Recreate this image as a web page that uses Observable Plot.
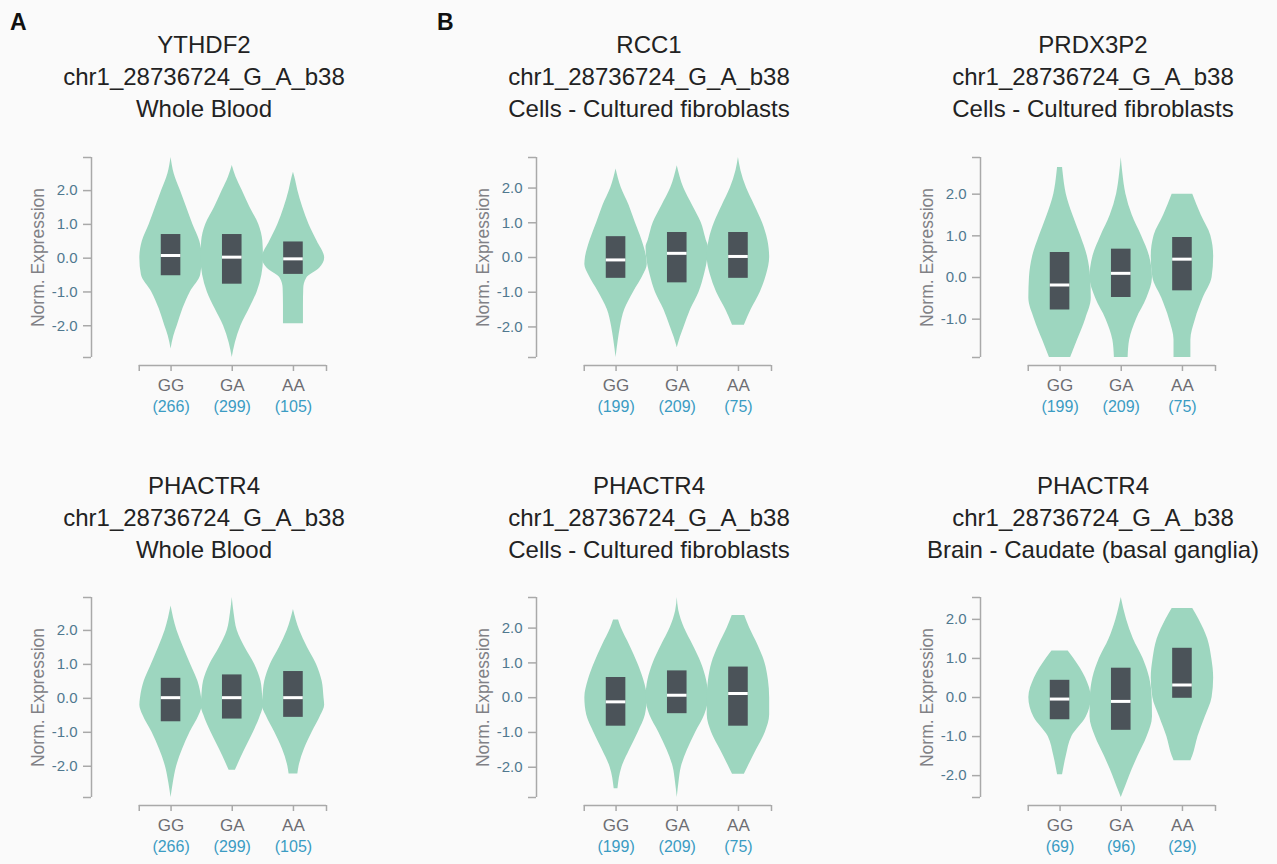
<!DOCTYPE html>
<html>
<head>
<meta charset="utf-8">
<script src="https://cdn.jsdelivr.net/npm/d3@7"></script>
<script src="https://cdn.jsdelivr.net/npm/@observablehq/plot@0.6"></script>
<style>
  body { margin: 0; background: #fafafa; font-family: "Liberation Sans", Arial, sans-serif; }
  #root { position: relative; width: 1277px; height: 864px; overflow: hidden; }
  .panel { position: absolute; width: 444px; }
  .title { position: absolute; width: 444px; text-align: center; font-size: 24px; line-height: 32px; color: #222; white-space: nowrap; }
  .letter { position: absolute; font-weight: bold; font-size: 23px; line-height: 24px; color: #111; }
</style>
</head>
<body>
<div id="root"></div>
<script>
// ---------- data ----------
const genotypes = ["GG", "GA", "AA"];
const genes = ["YTHDF2", "RCC1", "PRDX3P2", "PHACTR4", "PHACTR4", "PHACTR4"];
const variantId = "chr1_28736724_G_A_b38";
const tissues = ["Whole Blood", "Cells - Cultured fibroblasts", "Cells - Cultured fibroblasts",
                 "Whole Blood", "Cells - Cultured fibroblasts", "Brain - Caudate (basal ganglia)"];
const sampleCounts = [[266, 299, 105], [199, 209, 75], [199, 209, 75],
                      [266, 299, 105], [199, 209, 75], [69, 96, 29]];
const yTickValues = [[2, 1, 0, -1, -2], [2, 1, 0, -1, -2], [2, 1, 0, -1],
                     [2, 1, 0, -1, -2], [2, 1, 0, -1, -2], [2, 1, 0, -1, -2]];
const q1s = [[-0.52, -0.77, -0.48], [-0.60, -0.73, -0.60], [-0.78, -0.48, -0.32],
             [-0.69, -0.61, -0.56], [-0.82, -0.46, -0.82], [-0.57, -0.84, -0.02]];
const q3s = [[0.70, 0.70, 0.48], [0.60, 0.72, 0.72], [0.60, 0.68, 0.96],
             [0.59, 0.69, 0.79], [0.58, 0.77, 0.88], [0.44, 0.75, 1.26]];
const medians = [[0.08, 0.03, -0.02], [-0.07, 0.12, 0.03], [-0.18, 0.10, 0.44],
                 [0.02, 0.02, 0.02], [-0.12, 0.07, 0.12], [-0.04, -0.10, 0.32]];

// violin outlines: [expression value, relative half-width] for GG, GA, AA
const violinsYTHDF2Blood = [
  [[-2.69,0],[-2.3,0.09],[-2.0,0.2],[-1.5,0.38],[-1.0,0.62],[-0.5,0.95],[0,1.0],[0.5,0.92],[1.0,0.7],[1.5,0.5],[2.0,0.3],[2.5,0.1],[2.98,0]],
  [[-2.94,0],[-2.5,0.1],[-2.0,0.28],[-1.5,0.55],[-1.0,0.8],[-0.5,0.95],[0,1.0],[0.5,0.98],[1.0,0.85],[1.5,0.57],[2.0,0.32],[2.4,0.12],[2.74,0]],
  [[-1.94,0.32],[-1.4,0.32],[-0.9,0.33],[-0.6,0.42],[-0.3,0.84],[0,1.0],[0.5,0.76],[1.0,0.5],[1.5,0.3],[2.0,0.14],[2.3,0.07],[2.54,0]]
];
const violinsRCC1Fibro = [
  [[-2.88,0],[-2.4,0.07],[-2.0,0.14],[-1.5,0.28],[-1.0,0.56],[-0.5,0.88],[-0.2,1.0],[0,0.98],[0.5,0.83],[1.0,0.62],[1.5,0.42],[2.0,0.17],[2.55,0]],
  [[-2.6,0],[-2.3,0.1],[-2.0,0.22],[-1.5,0.43],[-1.0,0.7],[-0.5,0.87],[0,0.98],[0.3,1.0],[0.5,0.93],[1.0,0.77],[1.5,0.49],[2.0,0.21],[2.64,0]],
  [[-1.95,0.19],[-1.5,0.41],[-1.0,0.7],[-0.5,0.9],[0,1.0],[0.5,0.94],[1.0,0.77],[1.5,0.52],[2.0,0.26],[2.5,0.08],[2.88,0]]
];
const violinsPRDX3P2Fibro = [
  [[-1.92,0.34],[-1.5,0.56],[-1.0,0.82],[-0.5,1.0],[0,0.98],[0.5,0.88],[1.0,0.66],[1.5,0.41],[2.0,0.2],[2.5,0.1],[2.64,0.08]],
  [[-1.92,0.22],[-1.5,0.27],[-1.0,0.49],[-0.5,0.82],[0,1.0],[0.5,0.91],[1.0,0.65],[1.5,0.35],[2.0,0.15],[2.5,0.05],[2.88,0]],
  [[-1.92,0.27],[-1.5,0.27],[-1.0,0.42],[-0.5,0.66],[0,0.95],[0.5,1.0],[1.0,0.91],[1.5,0.6],[2.0,0.33]]
];
const violinsPHACTR4Blood = [
  [[-2.92,0],[-2.5,0.07],[-2.0,0.18],[-1.5,0.37],[-1.0,0.61],[-0.5,0.9],[-0.2,1.0],[0,0.98],[0.5,0.86],[1.0,0.63],[1.5,0.4],[2.0,0.19],[2.72,0]],
  [[-2.12,0.1],[-1.93,0.19],[-1.5,0.41],[-1.0,0.68],[-0.5,0.91],[-0.2,1.0],[0,0.98],[0.5,0.92],[1.0,0.72],[1.5,0.41],[2.0,0.16],[2.5,0.06],[2.97,0]],
  [[-2.23,0.14],[-2.0,0.18],[-1.5,0.35],[-1.0,0.6],[-0.5,0.88],[-0.2,1.0],[0,0.98],[0.5,0.92],[1.0,0.74],[1.5,0.45],[2.0,0.2],[2.62,0]]
];
const violinsPHACTR4Fibro = [
  [[-2.62,0.06],[-2.0,0.19],[-1.5,0.44],[-1.0,0.71],[-0.5,0.94],[0,1.0],[0.5,0.89],[1.0,0.69],[1.5,0.44],[2.0,0.17],[2.23,0.08]],
  [[-2.87,0],[-2.4,0.06],[-2.0,0.13],[-1.5,0.33],[-1.0,0.59],[-0.5,0.88],[0,1.0],[0.5,0.94],[1.0,0.77],[1.5,0.51],[2.0,0.23],[2.5,0.05],[2.88,0]],
  [[-2.2,0.19],[-2.0,0.3],[-1.5,0.58],[-1.0,0.86],[-0.5,1.0],[0,1.0],[0.5,0.96],[1.0,0.85],[1.5,0.63],[2.0,0.36],[2.36,0.2]]
];
const violinsPHACTR4Caudate = [
  [[-1.98,0.08],[-1.5,0.2],[-1.0,0.38],[-0.5,0.84],[0,1.0],[0.5,0.82],[1.0,0.44],[1.19,0.26]],
  [[-2.56,0],[-2.3,0.13],[-2.0,0.27],[-1.5,0.54],[-1.0,0.83],[-0.5,1.0],[0,0.99],[0.5,0.91],[1.0,0.7],[1.5,0.39],[2.0,0.17],[2.56,0]],
  [[-1.62,0.27],[-1.5,0.33],[-1.0,0.5],[-0.5,0.73],[0,0.95],[0.5,1.0],[1.0,0.94],[1.5,0.81],[2.0,0.53],[2.28,0.33]]
];
const violinSets = [violinsYTHDF2Blood, violinsRCC1Fibro, violinsPRDX3P2Fibro,
                    violinsPHACTR4Blood, violinsPHACTR4Fibro, violinsPHACTR4Caudate];

// ---------- style / layout ----------
const VIOLIN = "#9dd6bf", BOX = "#4b5359", AXIS = "#a9a9a9";
const TICK_TEXT = "#50788f", GENO_TEXT = "#6d6d72", COUNT_TEXT = "#3b9cc3";
const HALF = 0.51, BOX_HALF = 0.16;
const X_DOMAIN = [-1.3, 2.54], X_LINE = [-0.52, 2.54];
const colLeft = [0, 445, 889], rowTop = [150, 590], titleTop = [29, 470];

const root = document.getElementById("root");
[["A", 10], ["B", 437]].forEach(([t, x]) => {
  const d = document.createElement("div");
  d.className = "letter"; d.textContent = t;
  d.style.left = x + "px"; d.style.top = "10px";
  root.appendChild(d);
});

violinSets.forEach((set, i) => {
  const col = i % 3, row = Math.floor(i / 3);
  const rows = [];
  set.forEach((prof, g) => prof.forEach(([v, w]) => rows.push({g, v, w})));
  const boxes = genotypes.map((name, g) => ({
    g, name, q1: q1s[i][g], q3: q3s[i][g], med: medians[i][g], n: `(${sampleCounts[i][g]})`
  }));
  const [yMin, yMax] = d3.extent(rows, d => d.v);

  const chart = Plot.plot({
    width: 444, height: 270,
    marginLeft: 91, marginRight: 118, marginTop: 7, marginBottom: 55,
    style: {background: "transparent", fontFamily: "Liberation Sans, Arial, sans-serif", overflow: "visible"},
    x: {domain: X_DOMAIN, axis: null},
    y: {domain: [yMin, yMax], insetBottom: 8, axis: null},
    marks: [
      ...genotypes.map((_, g) => Plot.areaX(rows.filter(d => d.g === g), {
        y: "v", x1: d => d.g - HALF * d.w, x2: d => d.g + HALF * d.w,
        fill: VIOLIN, curve: "monotone-y"
      })),
      Plot.rect(boxes, {x1: d => d.g - BOX_HALF, x2: d => d.g + BOX_HALF, y1: "q1", y2: "q3", fill: BOX}),
      Plot.ruleY(boxes, {y: "med", x1: d => d.g - BOX_HALF, x2: d => d.g + BOX_HALF, stroke: "white", strokeWidth: 3}),
      // y axis
      Plot.ruleX([X_DOMAIN[0]], {y1: yMin, y2: yMax, stroke: AXIS, strokeWidth: 1.5}),
      Plot.axisY({ticks: [yMin, yMax], tickSize: 8, tickFormat: () => "", stroke: AXIS, strokeWidth: 1.5, label: null}),
      Plot.axisY({ticks: yTickValues[i], tickSize: 8, tickPadding: 6, tickFormat: d => d.toFixed(1),
                  fontSize: 15, stroke: AXIS, strokeWidth: 1.5, fill: TICK_TEXT, label: null}),
      Plot.text(["Norm. Expression"], {frameAnchor: "left", rotate: -90, textAnchor: "middle", lineAnchor: "middle",
                dx: -53, dy: -4, fontSize: 17.5, fill: "#808085"}),
      // x axis
      Plot.ruleY([yMin], {x1: X_LINE[0], x2: X_LINE[1], dy: 8, stroke: AXIS, strokeWidth: 1.5}),
      Plot.axisX({ticks: [X_LINE[0], 0, 1, 2, X_LINE[1]], tickSize: 6, tickFormat: () => "", stroke: AXIS, strokeWidth: 1.5, label: null}),
      Plot.text(boxes, {x: "g", text: "name", frameAnchor: "bottom", lineAnchor: "middle", dy: 20, fontSize: 17, fill: GENO_TEXT}),
      Plot.text(boxes, {x: "g", text: "n", frameAnchor: "bottom", lineAnchor: "middle", dy: 41, fontSize: 16, fill: COUNT_TEXT})
    ]
  });
  const holder = document.createElement("div");
  holder.className = "panel";
  holder.style.left = colLeft[col] + "px";
  holder.style.top = rowTop[row] + "px";
  holder.appendChild(chart);
  root.appendChild(holder);

  const title = document.createElement("div");
  title.className = "title";
  title.style.left = (colLeft[col] - 18) + "px";
  title.style.top = titleTop[row] + "px";
  [genes[i], variantId, tissues[i]].forEach(line => {
    const l = document.createElement("div"); l.textContent = line; title.appendChild(l);
  });
  root.appendChild(title);
});
</script>
</body>
</html>
